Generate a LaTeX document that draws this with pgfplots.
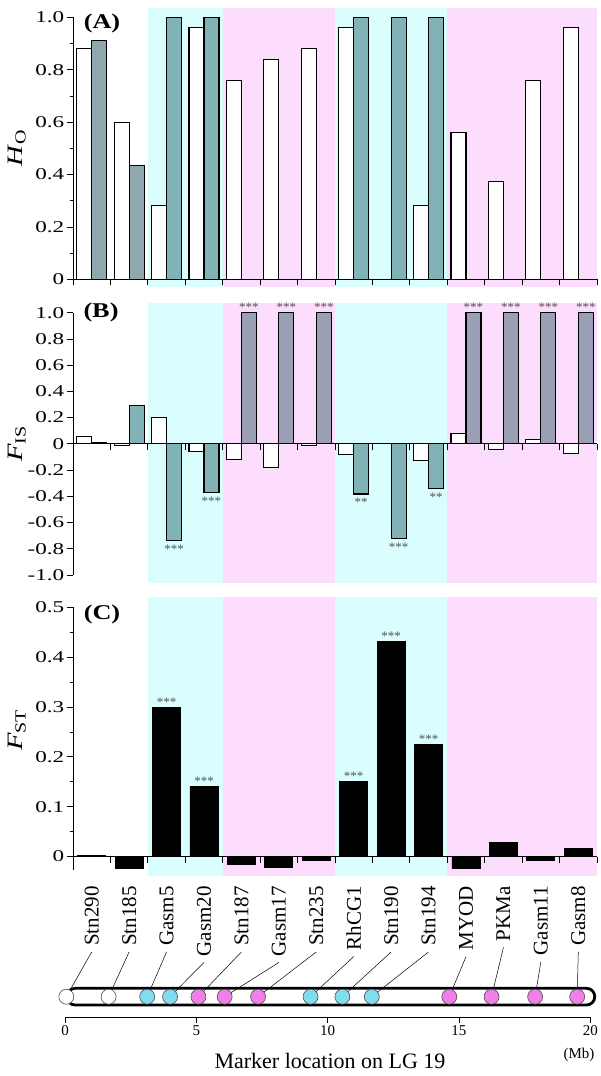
\documentclass[border=0pt]{standalone}
\usepackage{fontspec}
\setmainfont{Liberation Serif}
\usepackage{graphicx}
\usepackage{pgfplots}
\pgfplotsset{compat=1.18}

\definecolor{bgcyan}{RGB}{218,253,253}
\definecolor{bgpink}{RGB}{253,221,253}
\definecolor{barteal}{RGB}{128,178,182}
\definecolor{bargrey}{RGB}{142,168,174}
\definecolor{barslate}{RGB}{154,159,182}
\definecolor{dotcyan}{RGB}{128,220,238}
\definecolor{dotpink}{RGB}{240,128,232}
\definecolor{starc}{RGB}{85,85,85}

% tick labels in the original are a little wide
\newcommand{\tk}[1]{\scalebox{1.4}[1]{#1}}

\tikzset{
  lab/.style={rotate=90, anchor=east, inner sep=0pt, font=\fontsize{21}{21}\selectfont},
  leader/.style={line width=0.5pt, black},
}

\pgfplotsset{
  /pgf/number format/assume math mode=true,
  panel/.style={
    scale only axis, width=524pt, height=262pt,
    xmin=0.5, xmax=14.5, enlargelimits=false, clip=false, axis on top,
    axis x line=middle, axis y line=left,
    axis line style={-, line width=0.9pt},
    hide obscured x ticks=false, hide obscured y ticks=false,
    tick align=outside, major tick length=6pt, minor tick length=3.5pt,
    tick style={black, line width=0.8pt},
    xtick={0.5,1.5,2.5,3.5,4.5,5.5,6.5,7.5,8.5,9.5,10.5,11.5,12.5,13.5,14.5},
    xticklabels={},
    yticklabel style={font=\fontsize{16.5}{16.5}\selectfont, inner sep=2.5pt},
    ylabel style={at={(axis description cs:-0.107,0.5)}, anchor=center,
                  font=\fontsize{22}{22}\selectfont},
    ybar, bar width=0.4,
  },
  wbar/.style={fill=white, draw=black, line width=1.1pt, bar shift=-0.2},
  gbar/.style={draw=black, line width=1.1pt, bar shift=0.2},
  stars/.style={nodes near coords, point meta=explicit symbolic,
    every node near coord/.append style={font=\fontsize{13}{13}\selectfont,
      text=starc, inner sep=0.5pt}},
  starsbelow/.style={stars,
    every node near coord/.append style={anchor=north, yshift=-3pt}},
}

\begin{document}
\begin{tikzpicture}
\useasboundingbox (0,0) rectangle (600pt,-1076pt);

% ---------------- (A) observed heterozygosity
\begin{axis}[panel, at={(73pt,-279.3pt)}, anchor=south west,
  ymin=0, ymax=1,
  ytick={0,0.2,0.4,0.6,0.8,1},
  yticklabels={\tk{0},\tk{0.2},\tk{0.4},\tk{0.6},\tk{0.8},\tk{1.0}},
  minor ytick={0.1,0.3,0.5,0.7,0.9},
  ylabel={\scalebox{1.3}[1]{\textit{H}\textsubscript{O}}}]
\fill[bgcyan] (axis cs:2.5,-0.029) rectangle (axis cs:4.5,1.034);
\fill[bgpink] (axis cs:4.5,-0.029) rectangle (axis cs:7.5,1.034);
\fill[bgcyan] (axis cs:7.5,-0.029) rectangle (axis cs:10.5,1.034);
\fill[bgpink] (axis cs:10.5,-0.029) rectangle (axis cs:14.5,1.034);
\addplot[wbar] coordinates {(1,0.88)(2,0.60)(3,0.28)(4,0.96)(5,0.76)(6,0.84)(7,0.88)
  (8,0.96)(10,0.28)(11,0.56)(12,0.375)(13,0.76)(14,0.96)};
\addplot[gbar, fill=bargrey] coordinates {(1,0.91)(2,0.435)};
\addplot[gbar, fill=barteal] coordinates {(3,1)(4,1)(8,1)(9,1)(10,1)};
\end{axis}

% ---------------- (B) F_IS
\begin{axis}[panel, at={(73pt,-575pt)}, anchor=south west, height=262.3pt,
  ymin=-1, ymax=1,
  ytick={-1,-0.8,-0.6,-0.4,-0.2,0,0.2,0.4,0.6,0.8,1},
  yticklabels={\tk{-1.0},\tk{-0.8},\tk{-0.6},\tk{-0.4},\tk{-0.2},\tk{0},
    \tk{0.2},\tk{0.4},\tk{0.6},\tk{0.8},\tk{1.0}},
  ylabel={\scalebox{1.3}[1]{\textit{F}\textsubscript{IS}}}]
\fill[bgcyan] (axis cs:2.5,-1.063) rectangle (axis cs:4.5,1.074);
\fill[bgpink] (axis cs:4.5,-1.063) rectangle (axis cs:7.5,1.074);
\fill[bgcyan] (axis cs:7.5,-1.063) rectangle (axis cs:10.5,1.074);
\fill[bgpink] (axis cs:10.5,-1.063) rectangle (axis cs:14.5,1.074);
\addplot[wbar] coordinates {(1,0.053)(2,-0.012)(3,0.204)(4,-0.058)(5,-0.119)(6,-0.183)
  (7,-0.015)(8,-0.081)(10,-0.124)(11,0.076)(12,-0.043)(13,0.034)(14,-0.074)};
\addplot[gbar, fill=barteal] coordinates {(1,0.01)(2,0.293)};
\addplot[gbar, fill=barteal, starsbelow]
  coordinates {(3,-0.737)[***] (4,-0.371)[***] (8,-0.382)[**] (9,-0.722)[***] (10,-0.34)[**]};
\addplot[gbar, fill=barslate, stars]
  coordinates {(5,1)[***] (6,1)[***] (7,1)[***] (11,1)[***] (12,1)[***] (13,1)[***] (14,1)[***]};
\end{axis}

% ---------------- (C) F_ST
\begin{axis}[panel, at={(73pt,-870pt)}, anchor=south west, height=262.7pt,
  ymin=-0.027, ymax=0.5,
  ytick={0,0.1,0.2,0.3,0.4,0.5},
  yticklabels={\tk{0},\tk{0.1},\tk{0.2},\tk{0.3},\tk{0.4},\tk{0.5}},
  minor ytick={0.05,0.15,0.25,0.35,0.45},
  ylabel style={at={(axis description cs:-0.107,0.533)}},
  ylabel={\scalebox{1.3}[1]{\textit{F}\textsubscript{ST}}}]
\fill[bgcyan] (axis cs:2.5,-0.0387) rectangle (axis cs:4.5,0.52);
\fill[bgpink] (axis cs:4.5,-0.0387) rectangle (axis cs:7.5,0.52);
\fill[bgcyan] (axis cs:7.5,-0.0387) rectangle (axis cs:10.5,0.52);
\fill[bgpink] (axis cs:10.5,-0.0387) rectangle (axis cs:14.5,0.52);
\addplot[fill=black, draw=black, line width=0.8pt, bar shift=0, bar width=0.75]
  coordinates {(1,0.003)(2,-0.024)(5,-0.016)(6,-0.021)(7,-0.007)(11,-0.024)
  (12,0.0275)(13,-0.007)(14,0.017)};
\addplot[fill=black, draw=black, line width=0.8pt, bar shift=0, bar width=0.75, stars]
  coordinates {(3,0.299)[***] (4,0.140)[***] (8,0.150)[***] (9,0.432)[***] (10,0.224)[***]};
\end{axis}

% ---------------- marker map on LG 19 (Mb)
\begin{axis}[scale only axis, width=525.3pt, height=100pt,
  at={(65pt,-1017pt)}, anchor=south west,
  xmin=0, xmax=20, ymin=0, ymax=100, enlargelimits=false, clip=false,
  axis x line=bottom, hide y axis,
  axis line style={-, line width=0.9pt},
  tick align=outside, major tick length=6pt, tick style={black, line width=0.8pt},
  xtick={0,5,10,15,20},
  xticklabel style={font=\fontsize{15}{15}\selectfont, inner sep=2pt}]
\node[lab] (L1)  at (axis cs:1.017,131)  {Stn290};
\node[lab] (L2)  at (axis cs:2.442,131)  {Stn185};
\node[lab] (L3)  at (axis cs:3.867,131)  {Gasm5};
\node[lab] (L4)  at (axis cs:5.292,131)  {Gasm20};
\node[lab] (L5)  at (axis cs:6.717,131)  {Stn187};
\node[lab] (L6)  at (axis cs:8.142,131)  {Gasm17};
\node[lab] (L7)  at (axis cs:9.567,131)  {Stn235};
\node[lab] (L8)  at (axis cs:10.992,131) {RhCG1};
\node[lab] (L9)  at (axis cs:12.417,131) {Stn190};
\node[lab] (L10) at (axis cs:13.842,131) {Stn194};
\node[lab] (L11) at (axis cs:15.268,131) {MYOD};
\node[lab] (L12) at (axis cs:16.693,131) {PKMa};
\node[lab] (L13) at (axis cs:18.118,131) {Gasm11};
\node[lab] (L14) at (axis cs:19.543,131) {Gasm8};
\draw[leader] ([yshift=-6pt]L1.west)  -- (axis cs:0.05,20.3);
\draw[leader] ([yshift=-6pt]L2.west)  -- (axis cs:1.66,20.3);
\draw[leader] ([yshift=-6pt]L3.west)  -- (axis cs:3.13,20.3);
\draw[leader] ([yshift=-6pt]L4.west)  -- (axis cs:4.00,20.3);
\draw[leader] ([yshift=-6pt]L5.west)  -- (axis cs:5.08,20.3);
\draw[leader] ([yshift=-6pt]L6.west)  -- (axis cs:6.08,20.3);
\draw[leader] ([yshift=-6pt]L7.west)  -- (axis cs:7.35,20.3);
\draw[leader] ([yshift=-6pt]L8.west)  -- (axis cs:9.35,20.3);
\draw[leader] ([yshift=-6pt]L9.west)  -- (axis cs:10.56,20.3);
\draw[leader] ([yshift=-6pt]L10.west) -- (axis cs:11.68,20.3);
\draw[leader] ([yshift=-6pt]L11.west) -- (axis cs:14.63,20.3);
\draw[leader] ([yshift=-6pt]L12.west) -- (axis cs:16.24,20.3);
\draw[leader] ([yshift=-6pt]L13.west) -- (axis cs:17.90,20.3);
\draw[leader] ([yshift=-6pt]L14.west) -- (axis cs:19.50,20.3);
\draw[line width=2.8pt, rounded corners=8.3pt] (axis cs:0.07,28.7) rectangle (axis cs:20.17,12);
\addplot[only marks, mark=*, mark size=7.5pt,
  mark options={fill=white, draw=black!70, line width=0.6pt}]
  coordinates {(0.05,20.3)(1.66,20.3)};
\addplot[only marks, mark=*, mark size=7.5pt,
  mark options={fill=dotcyan, draw=black!70, line width=0.6pt}]
  coordinates {(3.13,20.3)(4.00,20.3)(9.35,20.3)(10.56,20.3)(11.68,20.3)};
\addplot[only marks, mark=*, mark size=7.5pt,
  mark options={fill=dotpink, draw=black!70, line width=0.6pt}]
  coordinates {(5.08,20.3)(6.08,20.3)(7.35,20.3)(14.63,20.3)(16.24,20.3)(17.90,20.3)(19.50,20.3)};
\end{axis}

% panel letters and bottom caption
\node[font=\fontsize{21}{21}\selectfont\bfseries] at (102pt,-23pt)  {\scalebox{1.25}[1]{(A)}};
\node[font=\fontsize{21}{21}\selectfont\bfseries] at (101pt,-312pt) {\scalebox{1.25}[1]{(B)}};
\node[font=\fontsize{21}{21}\selectfont\bfseries] at (102pt,-614pt) {\scalebox{1.25}[1]{(C)}};
\node[anchor=east, font=\fontsize{15}{15}\selectfont] at (598pt,-1055pt) {(Mb)};
\node[anchor=base, font=\fontsize{22}{22}\selectfont] at (330pt,-1068pt) {Marker location on LG 19};
\end{tikzpicture}
\end{document}
